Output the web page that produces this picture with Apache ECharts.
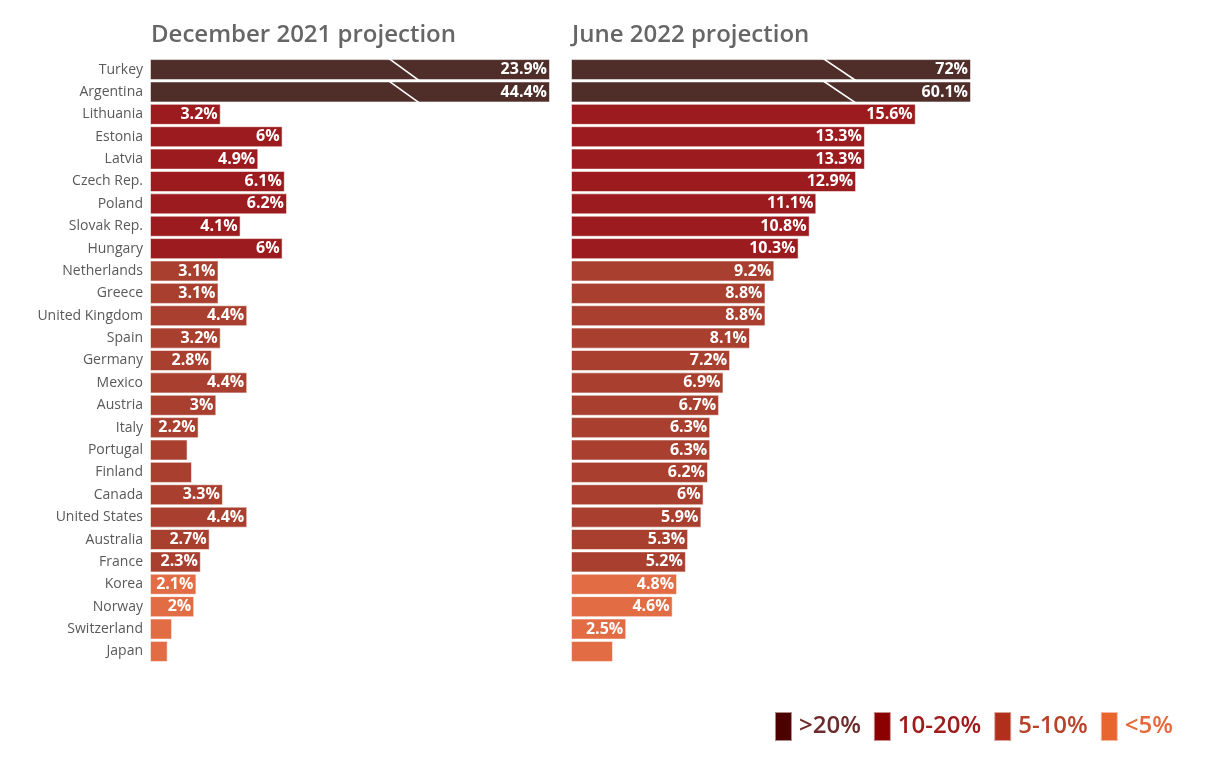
<!DOCTYPE html>
<html>
<head>
<meta charset="utf-8">
<script src="https://cdn.jsdelivr.net/npm/echarts@6/dist/echarts.min.js"></script>
<style>
  html, body { margin: 0; padding: 0; background: #fff; }
  #chart { width: 1224px; height: 772px; }
</style>
</head>
<body>
<div id="chart"></div>
<script>
// 数据
var countries = ['Turkey', 'Argentina', 'Lithuania', 'Estonia', 'Latvia', 'Czech Rep.', 'Poland', 'Slovak Rep.',
  'Hungary', 'Netherlands', 'Greece', 'United Kingdom', 'Spain', 'Germany', 'Mexico', 'Austria', 'Italy',
  'Portugal', 'Finland', 'Canada', 'United States', 'Australia', 'France', 'Korea', 'Norway', 'Switzerland', 'Japan']
var dec2021 = [23.9, 44.4, 3.2, 6, 4.9, 6.1, 6.2, 4.1, 6, 3.1, 3.1, 4.4, 3.2, 2.8, 4.4, 3, 2.2,
  1.7, 1.9, 3.3, 4.4, 2.7, 2.3, 2.1, 2, 1.0, 0.8]
var jun2022 = [72, 60.1, 15.6, 13.3, 13.3, 12.9, 11.1, 10.8, 10.3, 9.2, 8.8, 8.8, 8.1, 7.2, 6.9, 6.7, 6.3,
  6.3, 6.2, 6, 5.9, 5.3, 5.2, 4.8, 4.6, 2.5, 1.9]
var groupNames = ['>20%', '10-20%', '5-10%', '<5%']
var groupLimits = [20, 10, 5, 0]

// 样式
var barColors = ['#4f2e2a', '#9b1b1e', '#a9402f', '#e26c43']
var legendColors = ['#4c0000', '#8b0000', '#b2301b', '#e8652f']
var legendTextColors = ['#6e2b2b', '#a01c1c', '#b8432b', '#e56a3a']
var cap = 18.1 // 超出部分截断显示
var fontFamily = '"Open Sans", "Noto Sans", sans-serif'

// 颜色分组按 2022 年 6 月数值
var groupOf = jun2022.map(function (v) {
  for (var i = 0; i < groupLimits.length; i++) {
    if (v > groupLimits[i]) return i
  }
  return groupLimits.length - 1
})

function buildBars (values, gridIdx) {
  return groupNames.map(function (name, g) {
    return {
      name: name,
      type: 'bar',
      stack: 'grid' + gridIdx,
      xAxisIndex: gridIdx,
      yAxisIndex: gridIdx,
      barCategoryGap: '6%',
      itemStyle: {
        color: barColors[g],
        borderColor: 'rgba(255,255,255,0.55)',
        borderWidth: 1
      },
      label: {
        show: true,
        position: 'insideRight',
        distance: 3,
        color: '#fff',
        fontFamily: fontFamily,
        fontWeight: 'bold',
        fontSize: 16,
        formatter: function (p) {
          return p.data.raw < 2 ? '' : p.data.raw + '%'
        }
      },
      data: values.map(function (v, i) {
        if (groupOf[i] !== g) return '-'
        return { value: Math.min(v, cap), raw: v }
      })
    }
  })
}

function buildBreaks (values, gridIdx, from, to) {
  var data = []
  values.forEach(function (v, i) {
    if (v > cap) data.push([cap, countries[i]])
  })
  return {
    type: 'custom',
    xAxisIndex: gridIdx,
    yAxisIndex: gridIdx,
    z: 10,
    silent: true,
    encode: { x: 0, y: 1 },
    renderItem: function (params, api) {
      var idx = api.value(1)
      var band = api.size([0, 1])[1]
      var p1 = api.coord([from, idx])
      var p2 = api.coord([to, idx])
      return {
        type: 'line',
        shape: { x1: p1[0], y1: p1[1] - band / 2, x2: p2[0], y2: p2[1] + band / 2 },
        style: { stroke: '#fff', lineWidth: 1.6 }
      }
    },
    data: data
  }
}

var yAxisBase = {
  type: 'category',
  data: countries,
  inverse: true,
  axisLine: { show: false },
  axisTick: { show: false },
  splitLine: { show: false }
}
var xAxisBase = {
  type: 'value',
  min: 0,
  max: cap,
  show: false
}

var option = {
  backgroundColor: '#fff',
  animation: false,
  title: [
    {
      text: 'December 2021 projection',
      left: 146,
      top: 18,
      textStyle: { color: '#666', fontFamily: fontFamily, fontWeight: 600, fontSize: 24 }
    },
    {
      text: 'June 2022 projection',
      left: 567,
      top: 18,
      textStyle: { color: '#666', fontFamily: fontFamily, fontWeight: 600, fontSize: 24 }
    }
  ],
  legend: {
    right: 46,
    top: 706,
    itemWidth: 17,
    itemHeight: 29,
    itemGap: 12,
    icon: 'rect',
    selectedMode: false,
    textStyle: { fontFamily: fontFamily, fontSize: 24, fontWeight: 600, padding: [0, 0, 0, 2] },
    data: groupNames.map(function (n, i) {
      return {
        name: n,
        itemStyle: { color: legendColors[i] },
        textStyle: { color: legendTextColors[i] }
      }
    })
  },
  grid: [
    { left: 150, top: 58.4, width: 400, height: 604.2 },
    { left: 571, top: 58.4, width: 400, height: 604.2 }
  ],
  xAxis: [
    Object.assign({ gridIndex: 0 }, xAxisBase),
    Object.assign({ gridIndex: 1 }, xAxisBase)
  ],
  yAxis: [
    Object.assign({ gridIndex: 0 }, yAxisBase, {
      axisLabel: { color: '#595959', fontFamily: fontFamily, fontSize: 14, margin: 7 }
    }),
    Object.assign({ gridIndex: 1 }, yAxisBase, { axisLabel: { show: false } })
  ],
  series: buildBars(dec2021, 0)
    .concat(buildBars(jun2022, 1))
    .concat([buildBreaks(dec2021, 0, 10.8, 12.2), buildBreaks(jun2022, 1, 11.4, 12.9)])
}

var chart = echarts.init(document.getElementById('chart'))
chart.setOption(option)
</script>
</body>
</html>
